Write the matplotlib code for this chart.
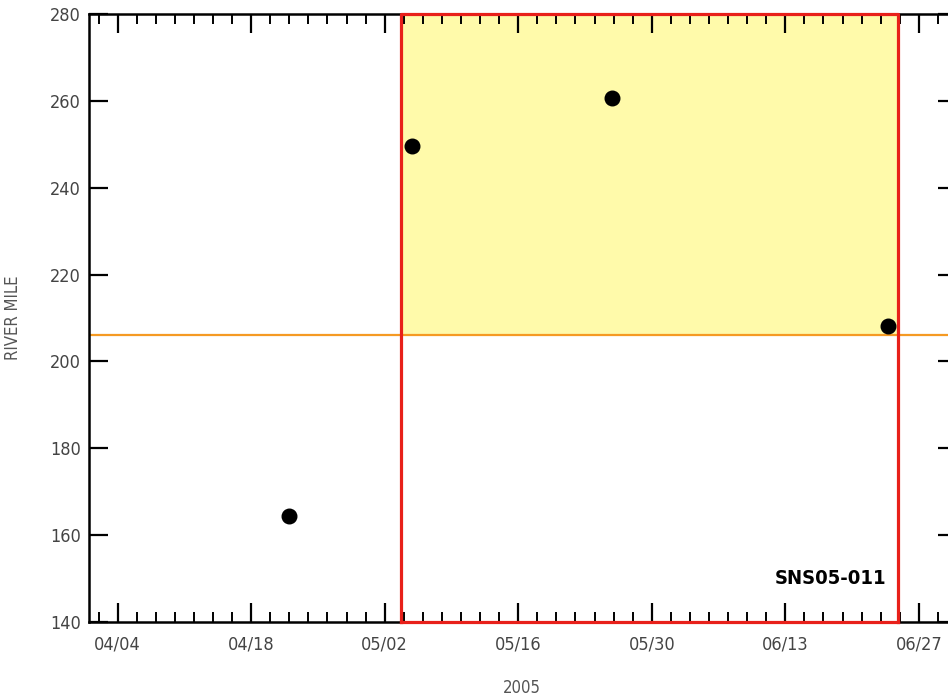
"""
"""
# ====================================================== Imports ===================================================== #

import datetime as dt

import matplotlib
matplotlib.use("Agg")
import matplotlib.dates as mdates
import matplotlib.pyplot as plt
from matplotlib.ticker import FixedLocator

plt.rcParams['font.family'] = ['DejaVu Sans']
plt.rcParams['font.stretch'] = 'condensed'

# ===================================================== Variables ==================================================== #

sample_dates = [dt.datetime(2005, 4, 22), dt.datetime(2005, 5, 4, 21), dt.datetime(2005, 5, 25, 20),
                dt.datetime(2005, 6, 23, 18)]
river_miles = [164.5, 249.7, 260.6, 208.1]

window_start = dt.datetime(2005, 5, 3, 18)
window_end = dt.datetime(2005, 6, 24, 19)
threshold_mile = 206

x_start = dt.datetime(2005, 4, 1)
x_end = dt.datetime(2005, 7, 1)
major_tick_dates = [dt.datetime(2005, 4, 4) + dt.timedelta(days=14 * i) for i in range(7)]
minor_tick_dates = [dt.datetime(2005, 4, 2) + dt.timedelta(days=2 * i) for i in range(45)]
y_ticks = [140, 160, 180, 200, 220, 240, 260, 280]
station_label = 'SNS05-011'

# ======================================================= Main ======================================================= #


def main():
    fig = plt.figure(figsize=(9.48, 7.0), dpi=100)
    ax = fig.add_axes([89 / 948, 1 - 622 / 700, (957 - 89) / 948, (622 - 14) / 700])

    # highlighted window
    ax.fill_between([window_start, window_end], threshold_mile, y_ticks[-1], color='#fffaaa', zorder=1, lw=0)
    ax.axhline(threshold_mile, color='#f59a23', lw=1.6, zorder=2)
    ax.plot([window_start, window_start, window_end, window_end],
            [y_ticks[0], y_ticks[-1], y_ticks[-1], y_ticks[0]], color='#e8201a', lw=2.3, zorder=3,
            clip_on=False)
    ax.plot([window_start, window_end], [y_ticks[0], y_ticks[0]], color='#e8201a', lw=2.3, zorder=6,
            clip_on=False)

    ax.scatter(sample_dates, river_miles, s=110, color='black', zorder=5)

    ax.set_xlim(x_start, x_end)
    ax.set_ylim(y_ticks[0], y_ticks[-1])
    ax.set_yticks(y_ticks)

    ax.xaxis.set_major_locator(FixedLocator(mdates.date2num(major_tick_dates)))
    ax.xaxis.set_minor_locator(FixedLocator(mdates.date2num(minor_tick_dates)))
    ax.xaxis.set_major_formatter(mdates.DateFormatter('%m/%d'))

    ax.tick_params(axis='both', which='major', direction='in', length=14, width=1.6, labelsize=13,
                   labelcolor='#444444', top=True, right=True, pad=6)
    ax.tick_params(axis='x', which='minor', direction='in', length=7, width=1.4, top=True)
    ax.tick_params(axis='x', which='major', pad=10)
    for spine in ax.spines.values():
        spine.set_linewidth(1.8)

    ax.set_ylabel('RIVER MILE', fontsize=12, color='#555555')
    ax.yaxis.set_label_coords((22 - 89) / 868, 0.5)
    ax.text(522 / 948, 1 - 688 / 700, '2005', transform=fig.transFigure, ha='center', va='center',
            fontsize=12, color='#555555')
    ax.text(886 / 948, 1 - 578 / 700, station_label, transform=fig.transFigure, ha='right', va='center',
            fontsize=14.5, fontweight='bold', color='black')

    fig.savefig('out.png', dpi=100)


# ==================================================================================================================== #


if __name__ == '__main__':
    main()
